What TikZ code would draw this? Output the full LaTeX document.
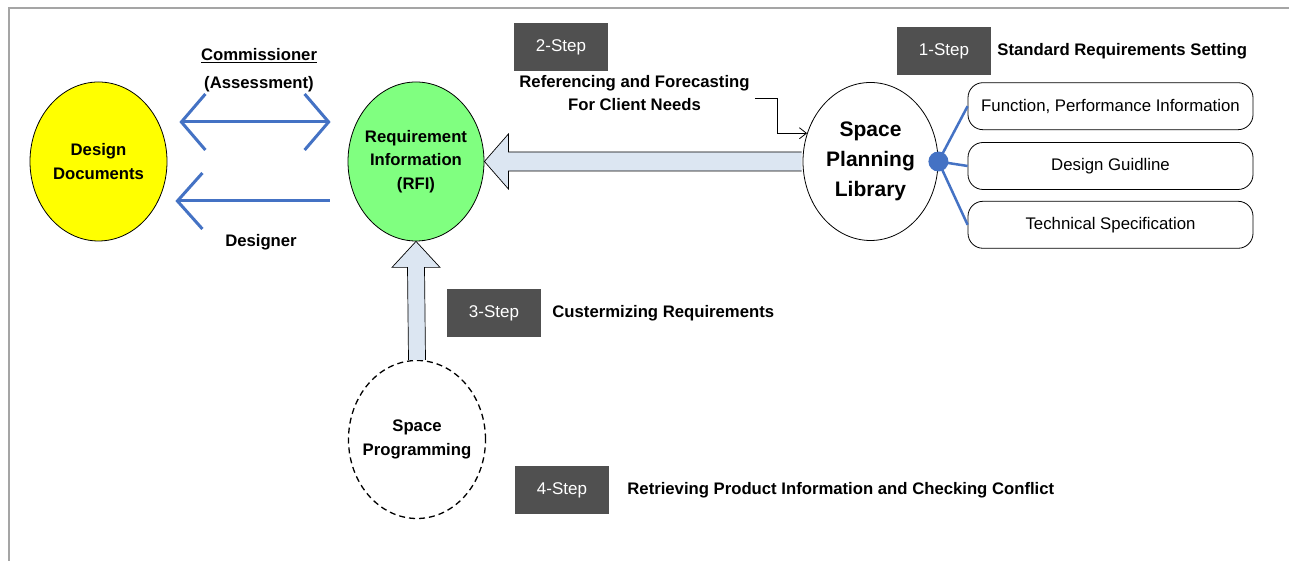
\documentclass[tikz,border=0pt]{standalone}
\usepackage{fontspec}
\setmainfont{Liberation Sans}
\usetikzlibrary{shapes.geometric,arrows.meta,positioning,calc}

\begin{document}
\begin{tikzpicture}[x=1pt,y=1pt,
  blob/.style={ellipse,draw=black,line width=0.8pt,inner xsep=-12pt,inner ysep=0pt,align=center,
    font=\bfseries\fontsize{16.7}{23.5}\selectfont},
  stepbox/.style={fill=stepGray,text=white,minimum width=94pt,minimum height=48pt,
    inner sep=0pt,font=\fontsize{17}{20}\selectfont},
  steptext/.style={inner sep=0pt,anchor=west,font=\bfseries\fontsize{16.7}{20}\selectfont},
  lbl/.style={inner sep=0pt,align=center,font=\bfseries\fontsize{16.7}{23}\selectfont},
  itembox/.style={draw=black,line width=0.8pt,rounded corners=15pt,minimum width=285pt,
    minimum height=47pt,inner sep=0pt,font=\fontsize{16.8}{20}\selectfont},
  flow/.style={draw=flowBlue,line width=3pt},
  hubline/.style={draw=flowBlue,line width=2.5pt},
  hubdot/.style={circle,fill=flowBlue,minimum size=20pt,inner sep=0pt},
  blockarrow/.style={draw=black,line width=0.7pt,fill=arrowFill,line join=miter}]
\definecolor{stepGray}{RGB}{80,80,80}
\definecolor{flowBlue}{RGB}{68,114,196}
\definecolor{arrowFill}{RGB}{220,230,242}
\definecolor{docYellow}{RGB}{255,255,0}
\definecolor{rfiGreen}{RGB}{128,255,128}
\definecolor{borderGray}{RGB}{165,165,165}
\useasboundingbox[fill=white] (0,0) rectangle (1289,561);

% frame
\path[draw=borderGray,line width=1.2pt] (9,0) -- (9,553) -- (1289,553);

% main circles
\node[blob,fill=docYellow,minimum width=137pt,minimum height=159pt] (DD) at (98.5,399.5) {Design\\Documents};
\node[blob,fill=rfiGreen,minimum width=136pt,minimum height=159pt] (RFI) at (416,399.5) {Requirement\\Information\\(RFI)};
\node[blob,minimum width=135pt,minimum height=158pt,
  font=\bfseries\fontsize{21}{30}\selectfont] (SPL) at (870.5,399.5) {Space\\Planning\\Library};
\node[blob,dashed,dash pattern=on 6pt off 4pt,line width=1.3pt,minimum width=137pt,
  minimum height=158pt] (SP) at (417,121.5) {Space\\Programming};

% roles between documents and RFI
\node[lbl,anchor=base] (comm) at (259,500) {\underline{Commissioner}};
\node[lbl,anchor=base] (assess) at (259,472) {(Assessment)};
\node[lbl,anchor=base] (designer) at (261,314) {Designer};
\draw[flow,{Straight Barb[length=24pt,width=56pt]}-{Straight Barb[length=24pt,width=56pt]}]
  ($(DD.east)+(12,39.5)$) -- ($(RFI.west)+(-17,39.5)$);
\draw[flow,-{Straight Barb[length=25pt,width=56pt]}]
  ($(RFI.west)+(-18,-39.5)$) -- ($(DD.east)+(8,-39.5)$);

% block arrows
\draw[blockarrow] ($(SPL.west)+(-1,9.5)$) -- ($(RFI.east)+(24,9.5)$) -- ($(RFI.east)+(24,27.5)$)
  -- (RFI.east) -- ($(RFI.east)+(24,-27.5)$) -- ($(RFI.east)+(24,-9.5)$) -- ($(SPL.west)+(-1,-9.5)$);
\draw[blockarrow] ($(SP.north)+(-8.5,0)$) -- ($(RFI.south)+(-8.5,-26)$) -- ($(RFI.south)+(-24,-26)$)
  -- (RFI.south) -- ($(RFI.south)+(24,-26)$) -- ($(RFI.south)+(8.5,-26)$) -- ($(SP.north)+(8.5,0)$);

% steps
\node[stepbox] (step1) at (944,510) {1-Step};
\node[steptext,right=6pt of step1] (settext) {Standard Requirements Setting};
\node[stepbox] (step2) at (561,514) {2-Step};
\node[lbl] (refnote) at (634.5,467.5) {Referencing and Forecasting\\For Client Needs};
\node[stepbox] (step3) at (494,248) {3-Step};
\node[steptext,right=11pt of step3] (custtext) {Custermizing Requirements};
\node[stepbox] (step4) at (562,70.5) {4-Step};
\node[steptext,right=18pt of step4] (rettext) {Retrieving Product Information and Checking Conflict};

\draw[line width=0.8pt,-{Straight Barb[length=7pt,width=11pt]}]
  ($(refnote.east)+(5,-4.5)$) -| ($(SPL.156)+(-30,0)$) -- (SPL.156);

% library items
\node[itembox] (item2) at (1110.5,395) {Design Guidline};
\node[itembox,above=12pt of item2] (item1) {Function, Performance Information};
\node[itembox,below=11pt of item2] (item3) {Technical Specification};
\draw[hubline] (SPL.east) -- (item1.west);
\draw[hubline] (SPL.east) -- (item2.west);
\draw[hubline] (SPL.east) -- (item3.west);
\node[hubdot] (hub) at (SPL.east) {};
\end{tikzpicture}
\end{document}
